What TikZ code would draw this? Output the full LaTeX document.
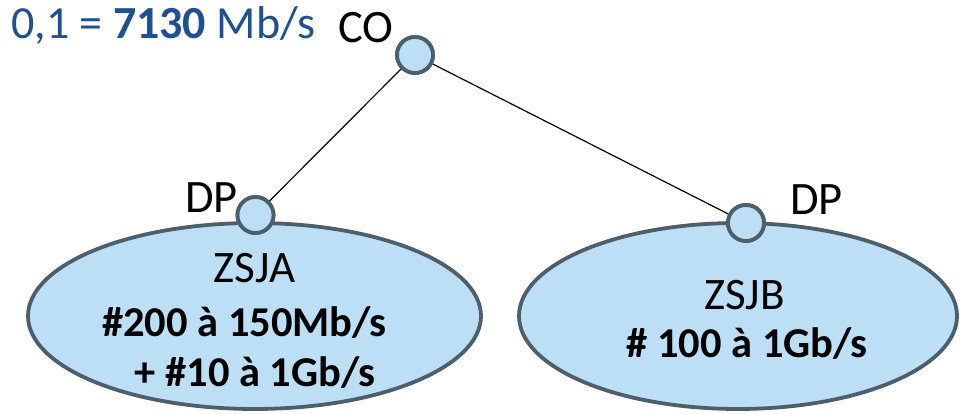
\documentclass[tikz,border=0pt]{standalone}
\usepackage{fontspec}
\setmainfont{Carlito}
\usetikzlibrary{shapes.geometric}
\definecolor{zfill}{HTML}{BDDFF5}
\definecolor{zedge}{HTML}{4E5F6C}
\definecolor{tblue}{HTML}{1F5091}
\tikzset{
  zone/.style={ellipse, draw=zedge, fill=zfill, line width=3.8pt, inner sep=0pt},
  pt/.style={circle, draw=zedge, fill=zfill, line width=3.8pt, minimum size=36pt, inner sep=0pt},
  link/.style={line width=1.2pt, black},
  lbl/.style={inner sep=0pt, font=\fontsize{46.5}{52}\selectfont},
  ztxt/.style={inner sep=0pt, font=\fontsize{45}{50}\selectfont, anchor=base},
  zbold/.style={inner sep=0pt, font=\fontsize{42.5}{48}\selectfont\bfseries, anchor=base}
}
\begin{document}
\begin{tikzpicture}[x=1pt,y=1pt]
\useasboundingbox (0,0) rectangle (961,414);
% zones
\node[zone, minimum width=453pt, minimum height=186pt] (za) at (254.5,98) {};
\node[zone, minimum width=438pt, minimum height=186pt] (zb) at (738,98) {};
% points
\node[pt] (co) at (415,359) {};
\node[pt] (dpa) at (255.5,199) {};
\node[pt] (dpb) at (746,191) {};
\draw[link] (co) -- (dpa);
\draw[link] (co) -- (dpb);
% redraw points on top
\node[pt] at (co) {};
\node[pt] at (dpa) {};
\node[pt] at (dpb) {};
% labels
\node[lbl, anchor=base west, text=tblue, font=\fontsize{46}{52}\selectfont] (rate) at (11,375) {0,1 = \textbf{7130} Mb/s};
\node[lbl, anchor=base west] (colbl) at (338,371) {CO};
\node[lbl, anchor=base west] (dpalbl) at (185,201) {DP};
\node[lbl, anchor=base west] (dpblbl) at (790,199) {DP};
\node[ztxt] (zaname) at (254.5,131) {ZSJA};
\node[zbold] (zal1) at (244.5,77) {\#200 à 150Mb/s};
\node[zbold] (zal2) at (255,27) {+ \#10 à 1Gb/s};
\node[ztxt] (zbname) at (744.5,104) {ZSJB};
\node[zbold] (zbl1) at (747,56) {\# 100 à 1Gb/s};
\end{tikzpicture}
\end{document}
